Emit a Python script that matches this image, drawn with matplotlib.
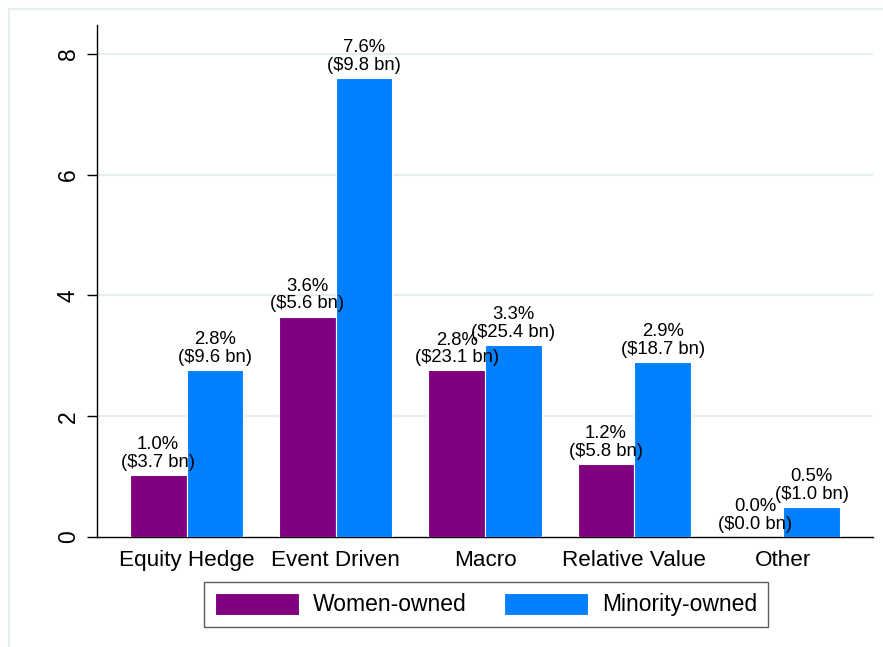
import matplotlib
matplotlib.use("Agg")
import matplotlib.pyplot as plt
import numpy as np
from matplotlib.patches import Rectangle

plt.rcParams["font.family"] = ["Liberation Sans", "DejaVu Sans"]

# data
categories = ["Equity Hedge", "Event Driven", "Macro", "Relative Value", "Other"]
women = [1.03, 3.65, 2.76, 1.21, 0.0]
minority = [2.77, 7.6, 3.18, 2.9, 0.5]
women_labels = ["1.0%\n($3.7 bn)", "3.6%\n($5.6 bn)", "2.8%\n($23.1 bn)",
                "1.2%\n($5.8 bn)", "0.0%\n($0.0 bn)"]
minority_labels = ["2.8%\n($9.6 bn)", "7.6%\n($9.8 bn)", "3.3%\n($25.4 bn)",
                   "2.9%\n($18.7 bn)", "0.5%\n($1.0 bn)"]
yticks = [0, 2, 4, 6, 8]

purple = "#800080"
blue = "#0080ff"
grid_col = "#e6eef0"

fig = plt.figure(figsize=(8.83, 6.47), dpi=100)
ax = fig.add_axes([97 / 883, 1 - 537 / 647, 776 / 883, 512 / 647])

# outer graph region frame (cut off at right and bottom)
fig.add_artist(Rectangle((8.5 / 883, -0.2), 1.2, 0.2 + 1 - 8.5 / 647,
                         transform=fig.transFigure, fill=False,
                         edgecolor=grid_col, linewidth=1.6))

x = np.arange(len(categories))
w = 0.38
b1 = ax.bar(x - w / 2, women, w, color=purple, edgecolor="white",
            linewidth=0.8, label="Women-owned", zorder=3)
b2 = ax.bar(x + w / 2, minority, w, color=blue, edgecolor="white",
            linewidth=0.8, label="Minority-owned", zorder=3)

for bars, labels in [(b1, women_labels), (b2, minority_labels)]:
    for rect, lab in zip(bars, labels):
        ax.annotate(lab, (rect.get_x() + rect.get_width() / 2, rect.get_height()),
                    xytext=(0, 3), textcoords="offset points", ha="center",
                    va="bottom", fontsize=13.3, linespacing=1.05, zorder=4)

ax.set_xlim(-0.6, 4.6)
ax.set_ylim(0, 8.48)
ax.set_xticks(x)
ax.set_xticklabels(categories, fontsize=16.2)
ax.set_yticks(yticks)
ax.set_yticklabels([str(t) for t in yticks], fontsize=16.5, rotation=90,
                   va="center")
ax.tick_params(axis="x", length=0, pad=9.5)
ax.tick_params(axis="y", length=7.5, width=1, pad=5)

for t in yticks[1:]:
    ax.axhline(t, color=grid_col, linewidth=1.6, zorder=1)

ax.spines["top"].set_visible(False)
ax.spines["right"].set_visible(False)
ax.spines["left"].set_linewidth(1)
ax.spines["bottom"].set_linewidth(1)

leg = fig.legend(handles=[b1, b2], loc="center",
                 bbox_to_anchor=(486 / 883, 42.5 / 647), ncol=2,
                 fontsize=16.5, handlelength=3.7, handleheight=1.1,
                 handletextpad=0.6, columnspacing=1.6, borderpad=0.45,
                 fancybox=False, frameon=True)
leg.get_frame().set_edgecolor("#333333")
leg.get_frame().set_linewidth(1)

plt.savefig("out.png", dpi=100)
plt.close()
